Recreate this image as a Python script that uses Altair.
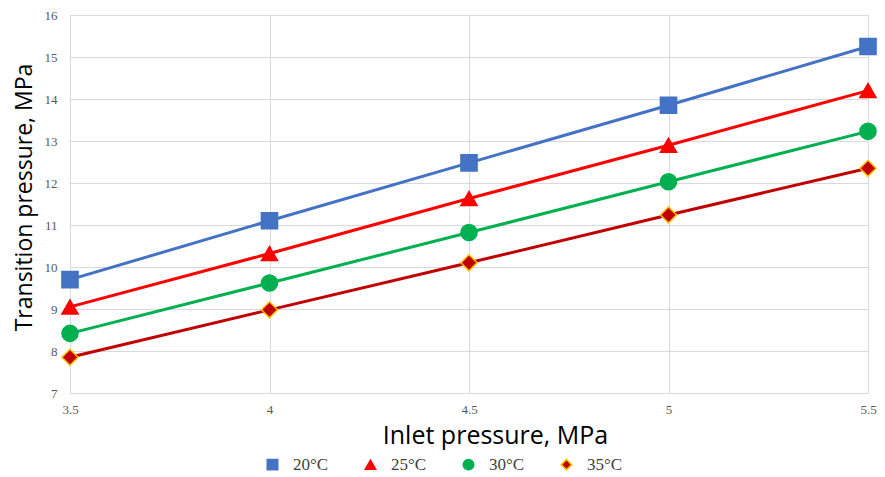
import altair as alt
import pandas as pd

inlet = [3.5, 4.0, 4.5, 5.0, 5.5]
series_names = ["20°C", "25°C", "30°C", "35°C"]
t20 = [9.7, 11.1, 12.48, 13.85, 15.25]
t25 = [9.05, 10.32, 11.63, 12.9, 14.2]
t30 = [8.42, 9.62, 10.82, 12.03, 13.23]
t35 = [7.85, 8.98, 10.1, 11.24, 12.35]
colors = ["#4472C4", "#FF0000", "#00B050", "#C00000"]
shapes = ["square", "triangle-up", "circle", "diamond"]
strokes = ["#4472C4", "#FF0000", "#00B050", "#FFC000"]

rows = []
for name, vals in zip(series_names, [t20, t25, t30, t35]):
    for x, y in zip(inlet, vals):
        rows.append({"inlet": x, "transition": y, "series": name})
df = pd.DataFrame(rows)

xenc = alt.X("inlet:Q", scale=alt.Scale(domain=[3.5, 5.5], nice=False),
             axis=alt.Axis(values=inlet, format="~g", title="Inlet pressure, MPa",
                           labelFont="Liberation Serif", labelFontSize=13, labelColor="#595959",
                           labelPadding=10, labelFlush=False, titleFont="Open Sans", titleFontSize=25,
                           titleFontWeight="normal", titleColor="#000000", titlePadding=7,
                           titleX=425, titleAlign="center",
                           ticks=False, domain=False, gridColor="#d9d9d9"))
yenc = alt.Y("transition:Q", scale=alt.Scale(domain=[7, 16], nice=False),
             axis=alt.Axis(values=list(range(7, 17)), title="Transition pressure, MPa",
                           labelFont="Liberation Serif", labelFontSize=13, labelColor="#595959",
                           labelPadding=13, labelFlush=False, titleFont="Open Sans", titleFontSize=23,
                           titleFontWeight="normal", titleColor="#000000", titlePadding=8,
                           titleY=182, titleAlign="center",
                           ticks=False, domain=False, gridColor="#d9d9d9"))

leg = alt.Legend(title=None, orient="none", direction="horizontal",
                 legendX=194, legendY=441, labelFont="Liberation Serif",
                 labelFontSize=17, labelColor="#404040", symbolSize=110,
                 columnPadding=33, labelOffset=12, symbolStrokeWidth=1.5)

line_layers = [
    alt.Chart(df).transform_filter(alt.datum.series == name)
    .mark_line(strokeWidth=3, color=col).encode(x=xenc, y=yenc)
    for name, col in zip(series_names, colors)
]
points = alt.Chart(df).mark_point(filled=True, size=260, opacity=1, strokeWidth=1.5).encode(
    x=xenc, y=yenc,
    fill=alt.Fill("series:N", scale=alt.Scale(domain=series_names, range=colors), legend=leg),
    shape=alt.Shape("series:N", scale=alt.Scale(domain=series_names, range=shapes), legend=leg),
    stroke=alt.Stroke("series:N", scale=alt.Scale(domain=series_names, range=strokes), legend=leg))

chart = alt.layer(*line_layers, points).properties(
    width=798, height=378,
    autosize=alt.AutoSizeParams(type="none"),
    padding={"left": 62, "top": 7, "right": 9, "bottom": 84},
).configure_view(stroke=None).configure(background="white")

chart.save("out.html", embed_options={"renderer": "svg", "actions": False})
